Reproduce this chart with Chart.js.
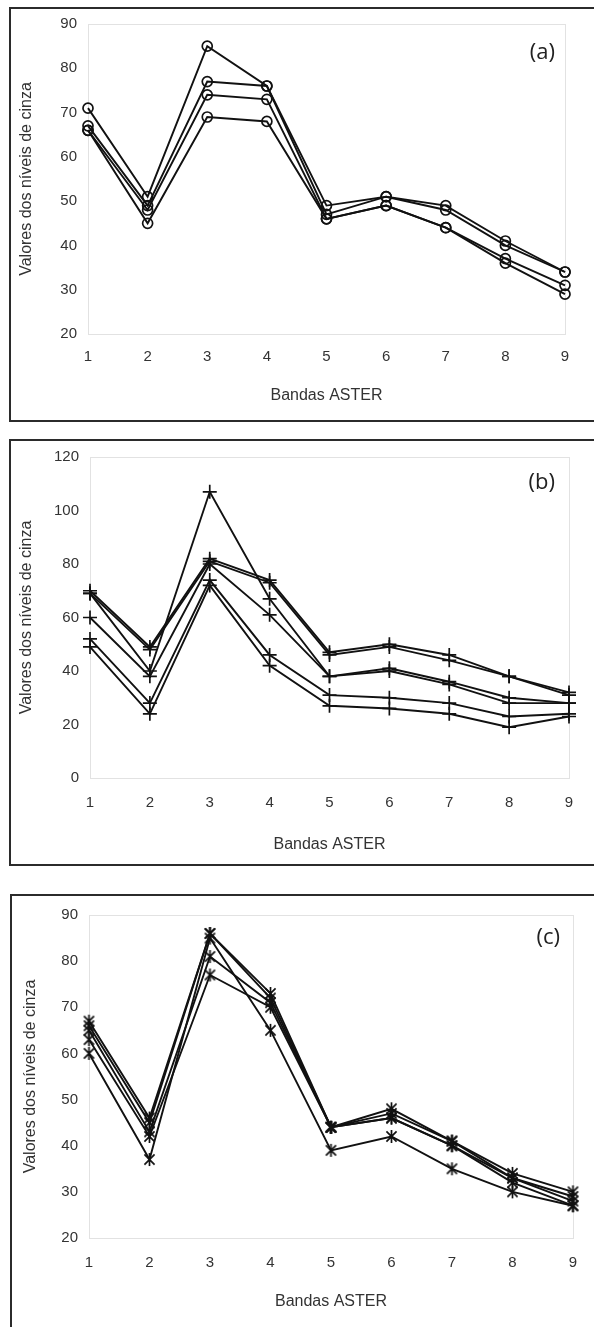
<!DOCTYPE html>
<html>
<head>
<meta charset="utf-8">
<script src="https://cdn.jsdelivr.net/npm/chart.js@4.4.1/dist/chart.umd.min.js"></script>
<style>
  html, body { margin: 0; padding: 0; background: #fff; }
  body { width: 594px; height: 1327px; position: relative; overflow: hidden; }
  .frame { position: absolute; border: 2px solid #2b2b2b; box-sizing: border-box; }
  canvas { position: absolute; left: 0; }
</style>
</head>
<body>
<div class="frame" style="left:9px; top:7px; width:620px; height:415px;"></div>
<div class="frame" style="left:9px; top:439px; width:620px; height:427px;"></div>
<div class="frame" style="left:10px; top:894px; width:620px; height:500px;"></div>
<canvas id="chartA"></canvas>
<canvas id="chartB"></canvas>
<canvas id="chartC"></canvas>
<script>
const bands = ["1", "2", "3", "4", "5", "6", "7", "8", "9"];

// (a) circles
const a1 = [71, 51, 85, 76, 49, 51, 49, 41, 34];
const a2 = [67, 49, 77, 76, 47, 51, 48, 40, 34];
const a3 = [66, 48, 74, 73, 46, 49, 44, 37, 31];
const a4 = [66, 45, 69, 68, 46, 49, 44, 36, 29];
const yTicksA = [20, 30, 40, 50, 60, 70, 80, 90];

// (b) crosses
const b1 = [70, 49, 82, 74, 47, 50, 46, 38, 32];
const b2 = [69, 48, 81, 73, 46, 49, 44, 38, 31];
const b3 = [69, 40, 107, 67, 38, 41, 36, 30, 28];
const b4 = [60, 38, 80, 61, 38, 40, 35, 28, 28];
const b5 = [52, 28, 74, 46, 31, 30, 28, 23, 24];
const b6 = [49, 24, 72, 42, 27, 26, 24, 19, 23];
const yTicksB = [0, 20, 40, 60, 80, 100, 120];

// (c) asterisks
const c1 = [67, 46, 86, 73, 44, 48, 41, 34, 30];
const c2 = [66, 45, 86, 72, 44, 47, 41, 33, 29];
const c3 = [65, 43, 81, 71, 44, 46, 40, 33, 28];
const c4 = [63, 42, 77, 70, 44, 46, 40, 32, 27];
const c5 = [60, 37, 85, 65, 39, 42, 35, 30, 27];
const yTicksC = [20, 30, 40, 50, 60, 70, 80, 90];

const ink = "#111";
const textGray = "#333";
const sans = '"Liberation Sans", Arial, sans-serif';

// six-armed asterisk marker, like the spreadsheet one
function asterisk(size) {
    const c = document.createElement("canvas");
    c.width = size;
    c.height = size;
    const g = c.getContext("2d");
    const m = size / 2, r = size / 2 - 1, d = r * 0.78;
    g.strokeStyle = ink;
    g.lineWidth = 1.7;
    g.beginPath();
    g.moveTo(m, m - r); g.lineTo(m, m + r);
    g.moveTo(m - d, m - d); g.lineTo(m + d, m + d);
    g.moveTo(m + d, m - d); g.lineTo(m - d, m + d);
    g.stroke();
    return c;
}

const plotBox = {
    id: "plotBox",
    beforeDatasetsDraw(chart) {
        const { ctx, chartArea: { left, top, right, bottom } } = chart;
        ctx.save();
        ctx.strokeStyle = "#e2e2e2";
        ctx.lineWidth = 1;
        ctx.strokeRect(left + 0.5, top + 0.5, right - left, bottom - top);
        ctx.restore();
    },
};

const panelTag = {
    id: "panelTag",
    afterDraw(chart, args, opts) {
        const { ctx, chartArea } = chart;
        ctx.save();
        ctx.font = '22px "Open Sans", sans-serif';
        ctx.fillStyle = "#222";
        ctx.textAlign = "right";
        ctx.textBaseline = "middle";
        ctx.fillText(opts.text, chartArea.right - opts.dx, chartArea.top + opts.dy);
        ctx.restore();
    },
};

function makePanel(canvasId, p) {
    const canvas = document.getElementById(canvasId);
    canvas.width = 594;
    canvas.height = (p.area.bottom - p.top) + p.titleGap + 20;
    canvas.style.top = p.top + "px";

    new Chart(canvas, {
        type: "line",
        data: {
            labels: bands,
            datasets: p.series.map((s) => {
                return {
                    data: s,
                    borderColor: ink,
                    borderWidth: 1.9,
                    pointStyle: p.marker,
                    pointRadius: p.radius,
                    pointBorderColor: ink,
                    pointBorderWidth: 1.7,
                    pointBackgroundColor: "rgba(0,0,0,0)",
                    tension: 0,
                    fill: false,
                    clip: false,
                };
            }),
        },
        options: {
            responsive: false,
            animation: false,
            events: [],
            layout: {
                padding: { top: p.area.top - p.top, right: 594 - p.area.right, left: 0, bottom: 0 },
            },
            plugins: {
                legend: { display: false },
                tooltip: { enabled: false },
                panelTag: { text: p.tag, dx: p.tagDx, dy: p.tagDy },
            },
            scales: {
                x: {
                    offset: false,
                    grid: { display: false, drawTicks: false },
                    border: { color: "#e2e2e2" },
                    ticks: {
                        padding: p.labelGap - 9,
                        color: textGray,
                        font: { family: sans, size: 15 },
                        maxRotation: 0,
                        autoSkip: false,
                    },
                    title: {
                        display: true,
                        text: "Bandas ASTER",
                        color: textGray,
                        font: { family: sans, size: 16 },
                        padding: { top: 0, bottom: 10.4 },
                    },
                    afterFit: (s) => { s.height = p.titleGap + 20; },
                },
                y: {
                    min: p.yTicks[0],
                    max: p.yTicks[p.yTicks.length - 1],
                    grid: { display: false, drawTicks: false },
                    border: { color: "#e2e2e2" },
                    afterBuildTicks: (s) => { s.ticks = p.yTicks.map((v) => ({ value: v })); },
                    ticks: {
                        padding: 11,
                        color: textGray,
                        font: { family: sans, size: 15 },
                    },
                    title: {
                        display: true,
                        text: "Valores dos níveis de cinza",
                        color: textGray,
                        font: { family: sans, size: 16 },
                        padding: { top: p.yTitleX - 9.6, bottom: 0 },
                    },
                    afterFit: (s) => { s.width = p.area.left; },
                },
            },
        },
        plugins: [plotBox, panelTag],
    });
}

makePanel("chartA", {
    top: 0,
    area: { top: 24, bottom: 334, left: 88, right: 565 },
    labelGap: 23, titleGap: 62, yTitleX: 27,
    yTicks: yTicksA,
    series: [a1, a2, a3, a4],
    marker: "circle", radius: 5,
    tag: "(a)", tagDx: 10, tagDy: 29,
});

makePanel("chartB", {
    top: 435,
    area: { top: 457, bottom: 778, left: 90, right: 569 },
    labelGap: 25, titleGap: 67, yTitleX: 27,
    yTicks: yTicksB,
    series: [b1, b2, b3, b4, b5, b6],
    marker: "cross", radius: 7,
    tag: "(b)", tagDx: 14, tagDy: 26,
});

makePanel("chartC", {
    top: 893,
    area: { top: 915, bottom: 1238, left: 89, right: 573 },
    labelGap: 25, titleGap: 64, yTitleX: 31,
    yTicks: yTicksC,
    series: [c1, c2, c3, c4, c5],
    marker: asterisk(15), radius: 7,
    tag: "(c)", tagDx: 13, tagDy: 23,
});
</script>
</body>
</html>
